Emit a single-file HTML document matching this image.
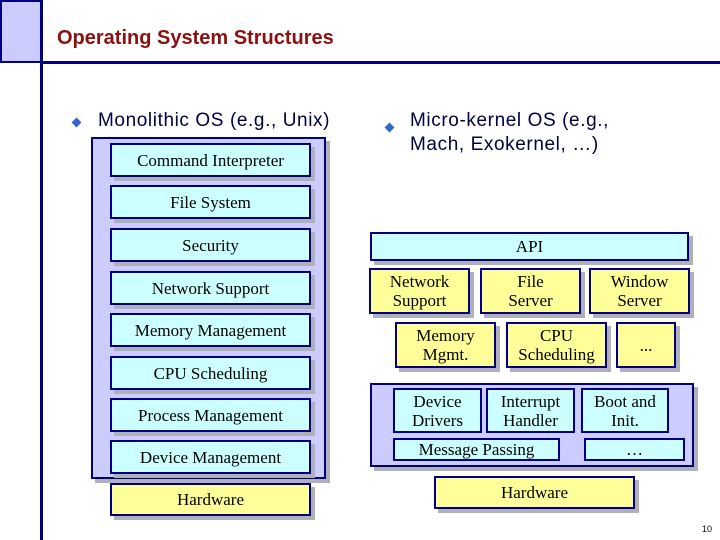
<!DOCTYPE html>
<html><head><style>
body{margin:0;width:720px;height:540px;position:relative;background:#fff;overflow:hidden;font-family:"Liberation Serif",serif}
.a{position:absolute;box-sizing:border-box}
.b{position:absolute;box-sizing:border-box;border:2px solid #000080;box-shadow:4px 4px 0 #b0b0b8;display:flex;align-items:center;justify-content:center;text-align:center;font-size:17px;line-height:19px;color:#000}
.c{background:#ccffff}.y{background:#ffff99}.p{background:#ccccff}
.t{position:absolute;font-family:"Liberation Sans",sans-serif;font-size:19px;letter-spacing:0.6px;color:#000040;line-height:24px}
.d{position:absolute;width:7px;height:7px;background:#3366cc;transform:rotate(45deg)}
</style></head><body>
<div class="a" style="left:0;top:0;width:42px;height:63px;background:#ccccff;border:2px solid #000080"></div>
<div class="a" style="left:40px;top:0;width:3px;height:540px;background:#000080"></div>
<div class="a" style="left:40px;top:61px;width:680px;height:3px;background:#000080"></div>
<div class="a" style="left:57px;top:27px;font-family:'Liberation Sans',sans-serif;font-weight:bold;font-size:20px;color:#8b1010;letter-spacing:0px">Operating System Structures</div>
<div class="d" style="left:73px;top:119px"></div>
<div class="t" style="left:98px;top:109px">Monolithic OS (e.g., Unix)</div>
<div class="d" style="left:386px;top:124px"></div>
<div class="t" style="left:410px;top:109px">Micro-kernel OS (e.g.,<br>Mach, Exokernel, …)</div>

<div class="b p" style="left:91px;top:137px;width:235px;height:342px"></div>
<div class="b c" style="left:110px;top:143px;width:201px;height:34px">Command Interpreter</div>
<div class="b c" style="left:110px;top:185px;width:201px;height:34px">File System</div>
<div class="b c" style="left:110px;top:228px;width:201px;height:34px">Security</div>
<div class="b c" style="left:110px;top:271px;width:201px;height:34px">Network Support</div>
<div class="b c" style="left:110px;top:313px;width:201px;height:34px">Memory Management</div>
<div class="b c" style="left:110px;top:356px;width:201px;height:34px">CPU Scheduling</div>
<div class="b c" style="left:110px;top:398px;width:201px;height:34px">Process Management</div>
<div class="b c" style="left:110px;top:440px;width:201px;height:34px">Device Management</div>
<div class="b y" style="left:110px;top:483px;width:201px;height:33px">Hardware</div>

<div class="b c" style="left:370px;top:232px;width:319px;height:29px">API</div>
<div class="b y" style="left:369px;top:268px;width:101px;height:46px">Network<br>Support</div>
<div class="b y" style="left:480px;top:268px;width:101px;height:46px">File<br>Server</div>
<div class="b y" style="left:589px;top:268px;width:101px;height:46px">Window<br>Server</div>
<div class="b y" style="left:395px;top:322px;width:101px;height:46px">Memory<br>Mgmt.</div>
<div class="b y" style="left:506px;top:322px;width:101px;height:46px">CPU<br>Scheduling</div>
<div class="b y" style="left:616px;top:322px;width:60px;height:46px">...</div>
<div class="b p" style="left:370px;top:383px;width:324px;height:84px"></div>
<div class="b c" style="left:393px;top:388px;width:89px;height:45px;box-shadow:none">Device<br>Drivers</div>
<div class="b c" style="left:486px;top:388px;width:89px;height:45px;box-shadow:none">Interrupt<br>Handler</div>
<div class="b c" style="left:581px;top:388px;width:88px;height:45px;box-shadow:none">Boot and<br>Init.</div>
<div class="b c" style="left:393px;top:438px;width:167px;height:23px;box-shadow:none">Message Passing</div>
<div class="b c" style="left:584px;top:438px;width:101px;height:23px;box-shadow:none">…</div>
<div class="b y" style="left:434px;top:476px;width:201px;height:33px">Hardware</div>
<div class="a" style="left:702px;top:524px;font-family:'Liberation Sans',sans-serif;font-size:9px">10</div>
</body></html>
